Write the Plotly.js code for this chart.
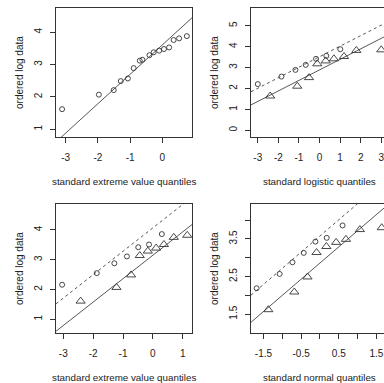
<!DOCTYPE html>
<html>
<head>
<meta charset="utf-8">
<script src="https://cdn.plot.ly/plotly-3.0.1.min.js"></script>
<style>
html,body{margin:0;padding:0;overflow:hidden;background:#fff;}
#chart{width:390px;height:383px;}
</style>
</head>
<body>
<div id="chart"></div>
<script>
// ---------- data ----------
// Panel 1 (top-left): all data, standard extreme value quantiles
const p1X = [-3.11, -1.97, -1.51, -1.29, -1.07, -0.89, -0.70, -0.62, -0.40, -0.27, -0.10, 0.05, 0.21, 0.35, 0.52, 0.76];
const p1Y = [1.62, 2.07, 2.21, 2.49, 2.57, 2.89, 3.12, 3.15, 3.29, 3.38, 3.43, 3.48, 3.53, 3.76, 3.81, 3.88];
const p1Line = {intercept: 3.61, slope: 0.91};

// Panel 2 (top-right): logistic quantiles
const p2CircX = [-3.0, -1.85, -1.17, -0.67, -0.17, 0.33, 1.01];
const p2CircY = [2.21, 2.57, 2.89, 3.13, 3.42, 3.56, 3.88];
const p2TriX = [-2.40, -1.08, -0.51, -0.11, 0.30, 0.70, 1.19, 1.79, 3.0];
const p2TriY = [1.64, 2.11, 2.52, 3.18, 3.32, 3.42, 3.53, 3.82, 3.85];
const p2Dash = {intercept: 3.52, slope: 0.503};
const p2Solid = {intercept: 2.89, slope: 0.503};

// Panel 3 (bottom-left): extreme value quantiles, two groups
const p3CircX = [-3.04, -1.88, -1.29, -0.87, -0.49, -0.13, 0.30];
const p3CircY = [2.16, 2.55, 2.88, 3.11, 3.42, 3.51, 3.86];
const p3TriX = [-2.42, -1.22, -0.73, -0.44, -0.17, 0.11, 0.37, 0.70, 1.15];
const p3TriY = [1.61, 2.07, 2.49, 3.14, 3.29, 3.39, 3.51, 3.75, 3.82];
const p3Dash = {intercept: 4.07, slope: 0.786};
const p3Solid = {intercept: 3.15, slope: 0.786};

// Panel 4 (bottom-right): normal quantiles
const p4CircX = [-1.68, -1.07, -0.73, -0.43, -0.12, 0.18, 0.60];
const p4CircY = [2.19, 2.57, 2.88, 3.13, 3.43, 3.53, 3.86];
const p4TriX = [-1.37, -0.68, -0.33, -0.09, 0.17, 0.43, 0.69, 1.06, 1.64];
const p4TriY = [1.62, 2.09, 2.49, 3.14, 3.30, 3.41, 3.49, 3.75, 3.80];
const p4Dash = {intercept: 3.58, slope: 0.86};
const p4Solid = {intercept: 2.86, slope: 0.86};

// tick labels
const p1XTicks = [-3, -2, -1, 0];          const p1XText = ['-3', '-2', '-1', '0'];
const p1YTicks = [1, 2, 3, 4];             const p1YText = ['1', '2', '3', '4'];
const p2XTicks = [-3, -2, -1, 0, 1, 2, 3]; const p2XText = ['-3', '-2', '-1', '0', '1', '2', '3'];
const p2YTicks = [0, 1, 2, 3, 4, 5];       const p2YText = ['0', '1', '2', '3', '4', '5'];
const p3XTicks = [-3, -2, -1, 0, 1];       const p3XText = ['-3', '-2', '-1', '0', '1'];
const p3YTicks = [1, 2, 3, 4];             const p3YText = ['1', '2', '3', '4'];
const p4XTicks = [-1.5, -1, -0.5, 0, 0.5, 1, 1.5]; const p4XText = ['-1.5', '', '-0.5', '', '0.5', '', '1.5'];
const p4YTicks = [1.5, 2, 2.5, 3, 3.5, 4]; const p4YText = ['1.5', '', '2.5', '', '3.5', ''];

const xTitles = ['standard extreme value quantiles', 'standard logistic quantiles',
                 'standard extreme value quantiles', 'standard normal quantiles'];
const yTitle = 'ordered log data';

// ---------- layout helpers ----------
const W = 390, H = 383;
const FONT = 'Liberation Sans, Arial, sans-serif';
const INK = '#222';
const LINEC = '#333';
const ranges = {
  x1: [-3.30, 0.92], y1: [0.76, 4.75],
  x2: [-3.33, 3.28], y2: [-0.32, 5.85],
  x3: [-3.245, 1.31], y3: [0.54, 4.87],
  x4: [-1.83, 1.78], y4: [1.0, 4.43]
};
// pixel boxes (left, right, top, bottom)
const boxes = [
  [56, 192, 8, 137], [251, 387, 8, 137],
  [56, 192, 204, 333], [251, 387, 204, 333]
];
function dom(b){ return {x:[b[0]/W, b[1]/W], y:[(H-b[3])/H, (H-b[2])/H]}; }

function ablineTrace(line, xr, ax, dash){
  const xs = [xr[0], xr[1]];
  return {x: xs, y: xs.map(v => line.intercept + line.slope*v), xaxis: ax[0], yaxis: ax[1],
          mode: 'lines', line: {color: '#444', width: 0.9, dash: dash}, hoverinfo: 'skip'};
}
function pts(x, y, ax, sym, size){
  return {x: x, y: y, xaxis: ax[0], yaxis: ax[1], mode: 'markers',
          marker: {symbol: sym, size: size, color: '#333', line: {color: '#333', width: 0.9}}};
}
const DASH = '3px,3px';
const traces = [
  ablineTrace(p1Line, ranges.x1, ['x', 'y'], 'solid'),
  pts(p1X, p1Y, ['x', 'y'], 'circle-open', 5),

  ablineTrace(p2Dash, ranges.x2, ['x2', 'y2'], DASH),
  ablineTrace(p2Solid, ranges.x2, ['x2', 'y2'], 'solid'),
  pts(p2CircX, p2CircY, ['x2', 'y2'], 'circle-open', 5),
  pts(p2TriX, p2TriY, ['x2', 'y2'], 'triangle-up-open', 8),

  ablineTrace(p3Dash, ranges.x3, ['x3', 'y3'], DASH),
  ablineTrace(p3Solid, ranges.x3, ['x3', 'y3'], 'solid'),
  pts(p3CircX, p3CircY, ['x3', 'y3'], 'circle-open', 5),
  pts(p3TriX, p3TriY, ['x3', 'y3'], 'triangle-up-open', 8),

  ablineTrace(p4Dash, ranges.x4, ['x4', 'y4'], DASH),
  ablineTrace(p4Solid, ranges.x4, ['x4', 'y4'], 'solid'),
  pts(p4CircX, p4CircY, ['x4', 'y4'], 'circle-open', 5),
  pts(p4TriX, p4TriY, ['x4', 'y4'], 'triangle-up-open', 8)
];

function xax(i, tv, tt){
  const d = dom(boxes[i-1]);
  return {domain: d.x, range: ranges['x'+i], anchor: i===1 ? 'y' : 'y'+i,
          tickmode: 'array', tickvals: tv, ticktext: tt, ticks: 'outside', ticklen: 5,
          tickwidth: 1, tickcolor: LINEC, showline: true, mirror: true, linecolor: LINEC, linewidth: 1,
          showgrid: false, zeroline: false, ticklabelstandoff: 6,
          tickfont: {family: FONT, size: 10, color: INK}, fixedrange: true};
}
function yax(i, tv, tt){
  const d = dom(boxes[i-1]);
  return {domain: d.y, range: ranges['y'+i], anchor: i===1 ? 'x' : 'x'+i,
          tickmode: 'array', tickvals: tv, ticktext: tt, ticks: 'outside', ticklen: 5,
          tickwidth: 1, tickcolor: LINEC, showline: true, mirror: true, linecolor: LINEC, linewidth: 1,
          showgrid: false, zeroline: false, tickangle: -90, ticklabelstandoff: 4,
          tickfont: {family: FONT, size: 10, color: INK}, fixedrange: true};
}

const annotations = [];
boxes.forEach((b, i) => {
  const cx = (b[0] + b[1]) / 2;
  const cy = (b[2] + b[3]) / 2;
  annotations.push({text: xTitles[i], xref: 'paper', yref: 'paper', x: cx / W, y: (H - (b[3] + 44.5)) / H,
    xanchor: 'center', yanchor: 'middle', showarrow: false, font: {family: FONT, size: 9.8, color: INK}});
  annotations.push({text: yTitle, xref: 'paper', yref: 'paper', x: (b[0] - 36.5) / W, y: (H - cy) / H,
    xanchor: 'center', yanchor: 'middle', textangle: -90, showarrow: false, font: {family: FONT, size: 10, color: INK}});
});

const layout = {
  width: W, height: H, margin: {l: 0, r: 0, t: 0, b: 0},
  paper_bgcolor: '#fff', plot_bgcolor: '#fff', showlegend: false,
  xaxis: xax(1, p1XTicks, p1XText), yaxis: yax(1, p1YTicks, p1YText),
  xaxis2: xax(2, p2XTicks, p2XText), yaxis2: yax(2, p2YTicks, p2YText),
  xaxis3: xax(3, p3XTicks, p3XText), yaxis3: yax(3, p3YTicks, p3YText),
  xaxis4: xax(4, p4XTicks, p4XText), yaxis4: yax(4, p4YTicks, p4YText),
  annotations: annotations
};
Plotly.newPlot('chart', traces, layout, {staticPlot: true, displayModeBar: false});
</script>
</body>
</html>
